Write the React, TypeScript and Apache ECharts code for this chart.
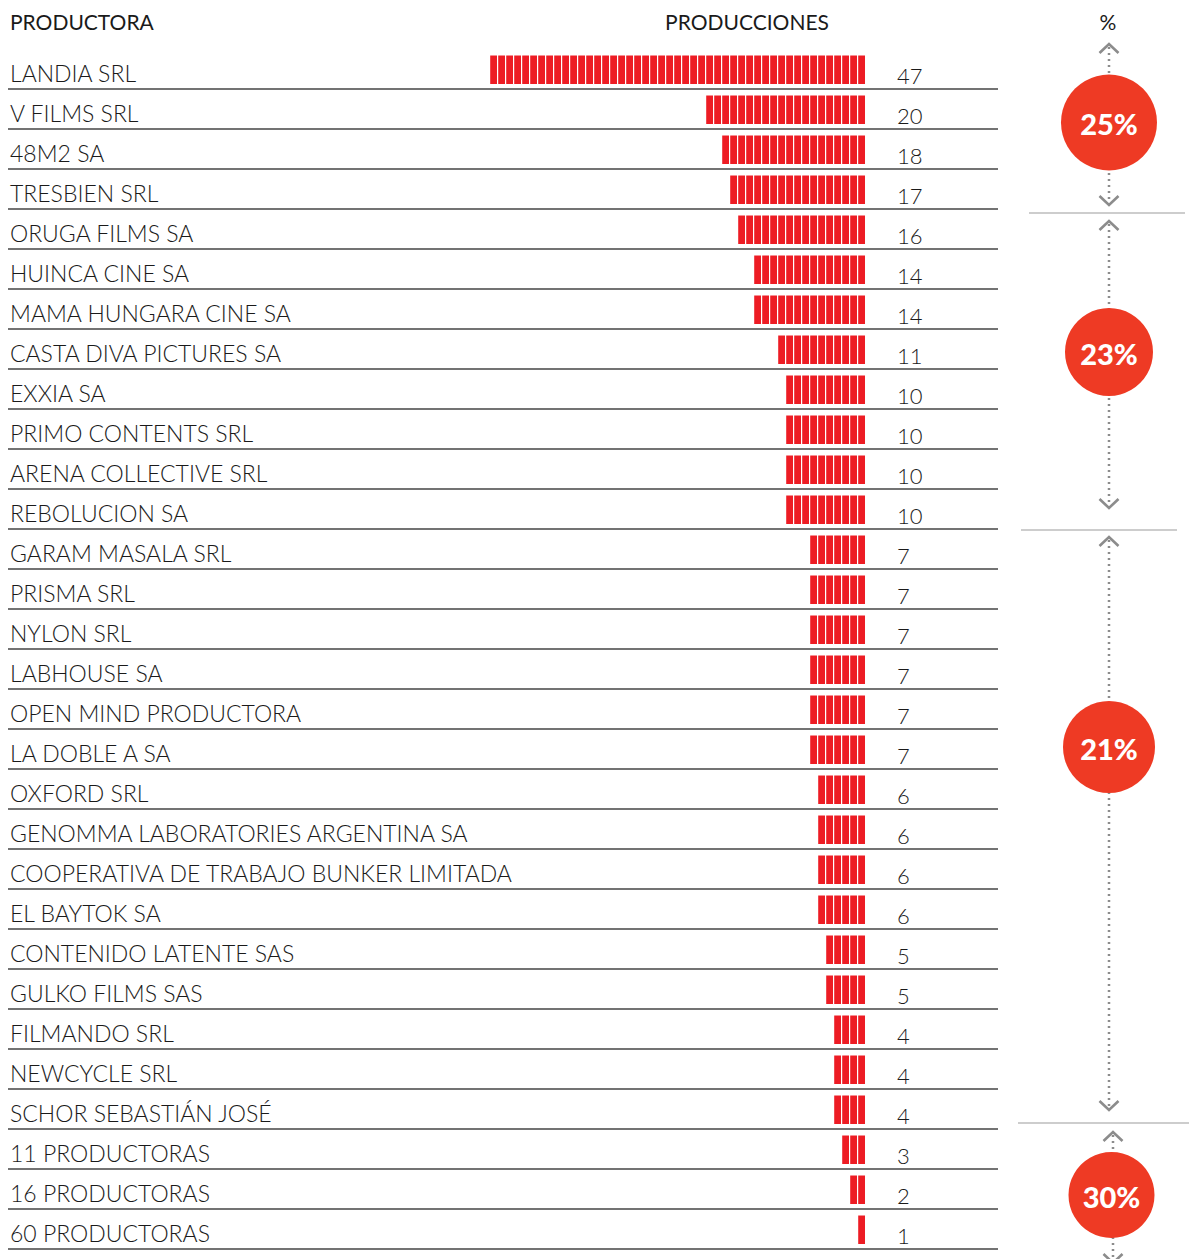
import React, { useEffect, useRef } from "react";
import * as echarts from "echarts";

const productoras = [
  "LANDIA SRL", "V FILMS SRL", "48M2 SA", "TRESBIEN SRL", "ORUGA FILMS SA",
  "HUINCA CINE SA", "MAMA HUNGARA CINE SA", "CASTA DIVA PICTURES SA", "EXXIA SA",
  "PRIMO CONTENTS SRL", "ARENA COLLECTIVE SRL", "REBOLUCION SA", "GARAM MASALA SRL",
  "PRISMA SRL", "NYLON SRL", "LABHOUSE SA", "OPEN MIND PRODUCTORA", "LA DOBLE A SA",
  "OXFORD SRL", "GENOMMA LABORATORIES ARGENTINA SA", "COOPERATIVA DE TRABAJO BUNKER LIMITADA",
  "EL BAYTOK SA", "CONTENIDO LATENTE SAS", "GULKO FILMS SAS", "FILMANDO SRL",
  "NEWCYCLE SRL", "SCHOR SEBASTIÁN JOSÉ", "11 PRODUCTORAS", "16 PRODUCTORAS", "60 PRODUCTORAS",
];
const producciones = [47, 20, 18, 17, 16, 14, 14, 11, 10, 10, 10, 10, 7, 7, 7, 7, 7, 7, 6, 6, 6, 6, 5, 5, 4, 4, 4, 3, 2, 1];
const headers = ["PRODUCTORA", "PRODUCCIONES", "%"];
const groupPercents = ["25%", "23%", "21%", "30%"];

const BAR = "#ED1C24";
const CIRCLE = "#EE3A24";
const GREY = "#8c8c8c";
const FONT = "Lato";

// layout of the right column (px)
const groupLayout = [
  { x: 1109, top: 44, bottom: 205, cy: 122.5, r: 48 },
  { x: 1109, top: 221, bottom: 508, cy: 352, r: 44 },
  { x: 1109, top: 537, bottom: 1110, cy: 747, r: 46 },
  { x: 1113, top: 1132, bottom: 1263, cy: 1195, r: 43 },
];
const separators = [
  { y: 213, x1: 1029, x2: 1185 },
  { y: 530, x1: 1021, x2: 1177 },
  { y: 1123, x1: 1018, x2: 1189 },
];

function chevron(x: number, tip: number, dir: number) {
  return {
    type: "polyline",
    shape: { points: [[x - 9.5, tip + dir * 9], [x, tip], [x + 9.5, tip + dir * 9]] },
    style: { stroke: GREY, lineWidth: 2.6, fill: "none" },
    z: 5,
  };
}

export default function App() {
  const ref = useRef<HTMLDivElement>(null);
  useEffect(() => {
    if (!ref.current) return;
    const chart = echarts.init(ref.current, null, { renderer: "svg" });

    const graphics: any[] = [
      { type: "text", x: 10, y: 21, style: { text: headers[0], font: `400 21px ${FONT}`, fill: "#1a1a1a", align: "left", verticalAlign: "middle" } },
      { type: "text", x: 747, y: 21, style: { text: headers[1], font: `400 21px ${FONT}`, fill: "#1a1a1a", align: "center", verticalAlign: "middle" } },
      { type: "text", x: 1108, y: 21, style: { text: headers[2], font: `400 21px ${FONT}`, fill: "#1a1a1a", align: "center", verticalAlign: "middle" } },
    ];
    separators.forEach((s) => {
      graphics.push({ type: "line", shape: { x1: s.x1, y1: s.y, x2: s.x2, y2: s.y }, style: { stroke: "#bdbdbd", lineWidth: 1.5 }, z: 5 });
    });
    groupLayout.forEach((g, i) => {
      graphics.push({ type: "line", shape: { x1: g.x, y1: g.top + 3, x2: g.x, y2: g.bottom - 3 }, style: { stroke: GREY, lineWidth: 2.5, lineDash: [2, 4] }, z: 5 });
      graphics.push(chevron(g.x, g.top, 1));
      graphics.push(chevron(g.x, g.bottom, -1));
      graphics.push({ type: "circle", shape: { cx: g.x - (i === 3 ? 1.5 : 0), cy: g.cy, r: g.r }, style: { fill: CIRCLE }, z: 6 });
      graphics.push({
        type: "text", x: g.x - (i === 3 ? 1.5 : 0), y: g.cy + 1, z: 7,
        style: { text: groupPercents[i], font: `900 29px ${FONT}`, fill: "#ffffff", align: "center", verticalAlign: "middle" },
      });
    });

    chart.setOption({
      animation: false,
      grid: { left: 8, right: 191, top: 49, bottom: 10 },
      xAxis: {
        type: "value", inverse: true, min: -16.625, max: 107.125,
        show: false,
      },
      yAxis: {
        type: "category", inverse: true, data: productoras,
        axisLine: { show: false }, axisTick: { show: false }, splitLine: { show: false },
        axisLabel: {
          inside: true, margin: 2, interval: 0, align: "left",
          verticalAlign: "top", lineHeight: 8,
          fontFamily: FONT, fontWeight: 300, fontSize: 23, color: "#1a1a1a",
        },
      },
      graphic: graphics,
      series: [
        {
          type: "custom",
          data: producciones.map((v, i) => [v, i]),
          encode: { x: 0, y: 1 },
          renderItem: (params: any, api: any) => {
            const v = api.value(0);
            const idx = api.value(1);
            const band = api.size([0, 1])[1];
            const c = api.coord([0, idx]);
            const children: any[] = [];
            for (let k = 0; k < v; k++) {
              const xR = api.coord([k, idx])[0];
              const xL = api.coord([k + 1, idx])[0];
              children.push({
                type: "rect",
                shape: { x: xL + 1.2, y: c[1] - 13.5, width: xR - xL - 1.2, height: 28.5 },
                style: { fill: BAR },
              });
            }
            const cs = params.coordSys;
            children.push({
              type: "line",
              shape: { x1: cs.x, y1: c[1] + band / 2, x2: cs.x + cs.width, y2: c[1] + band / 2 },
              style: { stroke: "#444", lineWidth: 1.3 },
            });
            children.push({
              type: "text", x: c[0] + 32, y: c[1] + 6,
              style: { text: String(v), font: `300 22px ${FONT}`, fill: "#1a1a1a", align: "left", verticalAlign: "middle" },
            });
            return { type: "group", children };
          },
        },
      ],
    });
    return () => chart.dispose();
  }, []);
  return <div ref={ref} style={{ position: "absolute", left: 0, top: 0, width: 1189, height: 1259 }} />;
}
